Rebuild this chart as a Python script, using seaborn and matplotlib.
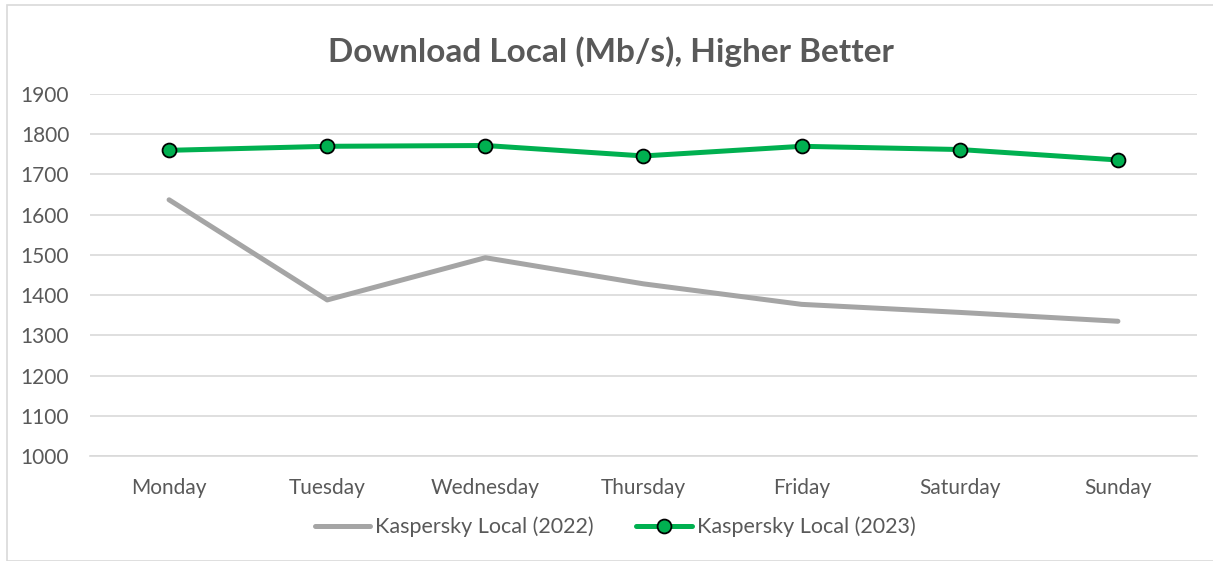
import matplotlib
import pandas as pd
import matplotlib.pyplot as plt
import seaborn as sns
from matplotlib.patches import Rectangle

matplotlib.use('Agg')  # Use a non-interactive backend

# Data
days = ['Monday', 'Tuesday', 'Wednesday', 'Thursday', 'Friday', 'Saturday', 'Sunday']
local_2022 = [1637, 1388, 1493, 1428, 1377, 1357, 1335]
local_2023 = [1760, 1770, 1772, 1746, 1770, 1762, 1736]
y_ticks = [1000, 1100, 1200, 1300, 1400, 1500, 1600, 1700, 1800, 1900]

label_2022 = 'Kaspersky Local (2022)'
label_2023 = 'Kaspersky Local (2023)'

df = pd.DataFrame({'day': days, label_2022: local_2022, label_2023: local_2023})

# Apply Seaborn styling
sns.set_theme(style="white")
plt.rcParams['font.family'] = ['Lato', 'DejaVu Sans']

text_grey = '#595959'

fig = plt.figure(figsize=(12.13, 5.61), dpi=100)
ax = fig.add_axes([0.0742, 0.1872, 0.9126, 0.6452])

sns.lineplot(data=df, x='day', y=label_2022, ax=ax, sort=False,
             color='#A5A5A5', linewidth=3.6, label=label_2022,
             solid_capstyle='round')
sns.lineplot(data=df, x='day', y=label_2023, ax=ax, sort=False,
             color='#00B050', linewidth=3.6, marker='o', markersize=10,
             markeredgecolor='black', markeredgewidth=1.3, label=label_2023)

ax.set_xlim(-0.5, len(days) - 0.5)
ax.set_ylim(1000, 1900)
ax.set_yticks(y_ticks)
ax.yaxis.grid(True, color='#D9D9D9', linewidth=1.2)
ax.set_axisbelow(True)
for side in ['top', 'right', 'left']:
    ax.spines[side].set_visible(False)
ax.spines['bottom'].set_color('#D9D9D9')
ax.spines['bottom'].set_linewidth(1.2)
ax.tick_params(axis='both', length=0, labelsize=15, labelcolor=text_grey)
ax.tick_params(axis='y', pad=15)
ax.tick_params(axis='x', pad=16)
ax.set_xlabel('')
ax.set_ylabel('')

fig.suptitle('Download Local (Mb/s), Higher Better', x=611 / 1213, y=1 - 52 / 561,
             va='center', fontsize=24, fontweight='bold', color=text_grey)

ax.get_legend().remove()
handles, labels = ax.get_legend_handles_labels()
fig.legend(handles, labels, loc='center', bbox_to_anchor=(615 / 1213, 1 - 527 / 561),
           ncol=2, frameon=False, fontsize=15.5, labelcolor=text_grey,
           handlelength=2.6, handletextpad=0.2, columnspacing=2.0)

# Light frame around the chart
fig.patches.append(Rectangle((7 / 1213, 0), 1.0, 1 - 5 / 561, transform=fig.transFigure,
                             fill=False, edgecolor='#D9D9D9', linewidth=1.2))

plt.savefig('out.png', dpi=100)
plt.close()
